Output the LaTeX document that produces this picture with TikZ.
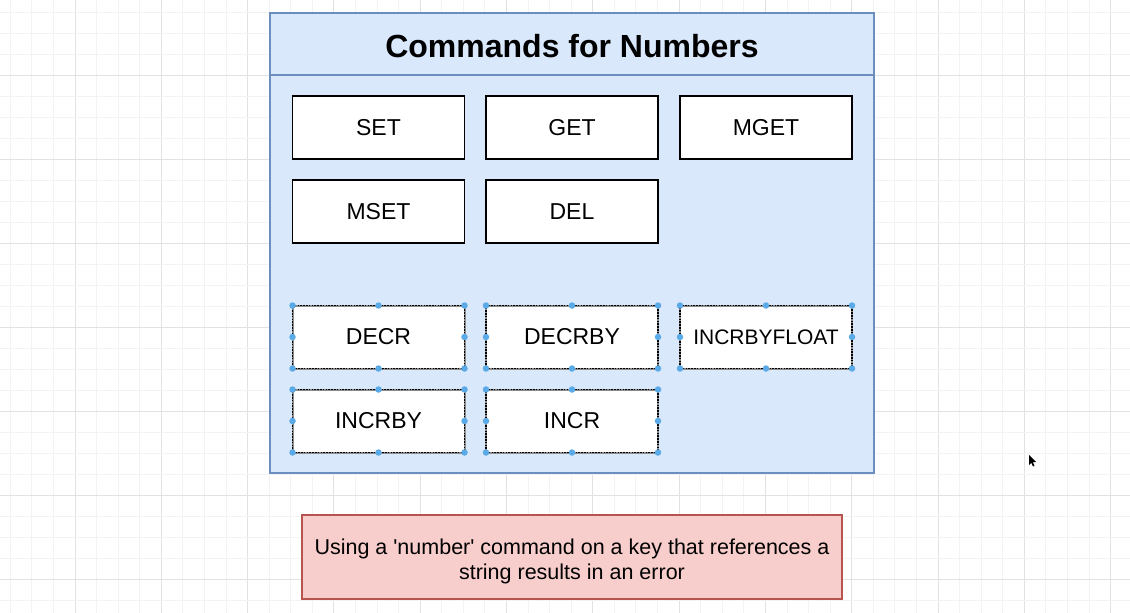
\documentclass[tikz,border=0pt]{standalone}
\usepackage{fontspec}
\setmainfont{Liberation Sans}
\newcommand{\straightq}{\XeTeXglyph\XeTeXcharglyph"27\relax}
\definecolor{gridminor}{HTML}{F3F3F3}
\definecolor{gridmajor}{HTML}{E2E2E2}
\definecolor{contfill}{HTML}{DAE8FC}
\definecolor{contdraw}{HTML}{6C8EBF}
\definecolor{redfill}{HTML}{F8CECC}
\definecolor{reddraw}{HTML}{B85450}
\definecolor{handle}{HTML}{5AAAE8}
\begin{document}
\begin{tikzpicture}[x=1pt,y=-1pt,
  cmd/.style={draw=black, line width=1.8pt, fill=white, minimum width=172pt, minimum height=63pt, inner sep=0pt, outer sep=0pt, font=\fontsize{23}{27}\selectfont},
  selbox/.style={draw=black!45, line width=2pt, fill=white, minimum width=172pt, minimum height=63pt, inner sep=0pt, outer sep=0pt, font=\fontsize{23}{27}\selectfont,
     postaction={draw=black, line width=1.4pt, dash pattern=on 1.6pt off 1.2pt}},
  hdl/.style={circle, fill=handle, inner sep=0pt, minimum size=6.5pt}
]
\useasboundingbox (0,0) rectangle (1130,613);
\fill[white] (0,0) rectangle (1130,613);
% grid
\foreach \k in {0,...,52}{
  \pgfmathsetmacro{\xx}{10.3+\k*21.575}
  \pgfmathtruncatemacro{\m}{mod(\k,4)}
  \ifnum\m=3 \draw[gridmajor, line width=1pt] (\xx,0) -- (\xx,613);
  \else \draw[gridminor, line width=1pt] (\xx,0) -- (\xx,613); \fi
}
\foreach \k in {0,...,28}{
  \pgfmathsetmacro{\yy}{12+\k*21}
  \pgfmathtruncatemacro{\m}{mod(\k,4)}
  \ifnum\m=3 \draw[gridmajor, line width=1pt] (0,\yy) -- (1130,\yy);
  \else \draw[gridminor, line width=1pt] (0,\yy) -- (1130,\yy); \fi
}
% container
\node[draw=contdraw, fill=contfill, line width=2pt, minimum width=604pt, minimum height=460pt, inner sep=0pt, outer sep=0pt, anchor=north west] (cont) at (270,13) {};
\coordinate (tl) at (270,75);
\coordinate (tr) at (874,75);
\draw[contdraw, line width=2pt] (tl) -- (tr);
\node[font=\fontsize{32}{38}\selectfont\bfseries] (title) at (572,46) {Commands for Numbers};
% plain boxes
\node[cmd] (set) at (378.5,127.5) {SET};
\node[cmd] (get) at (572,127.5) {GET};
\node[cmd] (mget) at (766,127.5) {MGET};
\node[cmd] (mset) at (378.5,211.5) {MSET};
\node[cmd] (del) at (572,211.5) {DEL};
% selected boxes
\node[selbox] (decr) at (378.5,337) {DECR};
\node[selbox] (decrby) at (572,337) {DECRBY};
\node[selbox, font=\fontsize{21}{25}\selectfont] (incrbyfloat) at (766,337) {INCRBYFLOAT};
\node[selbox] (incrby) at (378.5,421) {INCRBY};
\node[selbox] (incr) at (572,421) {INCR};
\foreach \n in {decr,decrby,incrbyfloat,incrby,incr}{
  \foreach \a in {north west,north,north east,east,south east,south,south west,west}{
    \node[hdl] at (\n.\a) {};
  }
}
% note
\node[draw=reddraw, fill=redfill, line width=2pt, minimum width=540pt, minimum height=84pt, inner sep=0pt, outer sep=0pt,
  anchor=north west] (note) at (302,515) {};
\node[align=center, font=\fontsize{21.5}{25}\selectfont] (notetext) at (572,561.5)
  {Using a \straightq number\straightq{} command on a key that references a\\string results in an error};
% cursor
\fill[black] (1029,455) -- (1029,465) -- (1031.3,462.8) -- (1033,466.5) -- (1034.5,465.8) -- (1032.8,462.3) -- (1036,462) -- cycle;
\end{tikzpicture}
\end{document}
